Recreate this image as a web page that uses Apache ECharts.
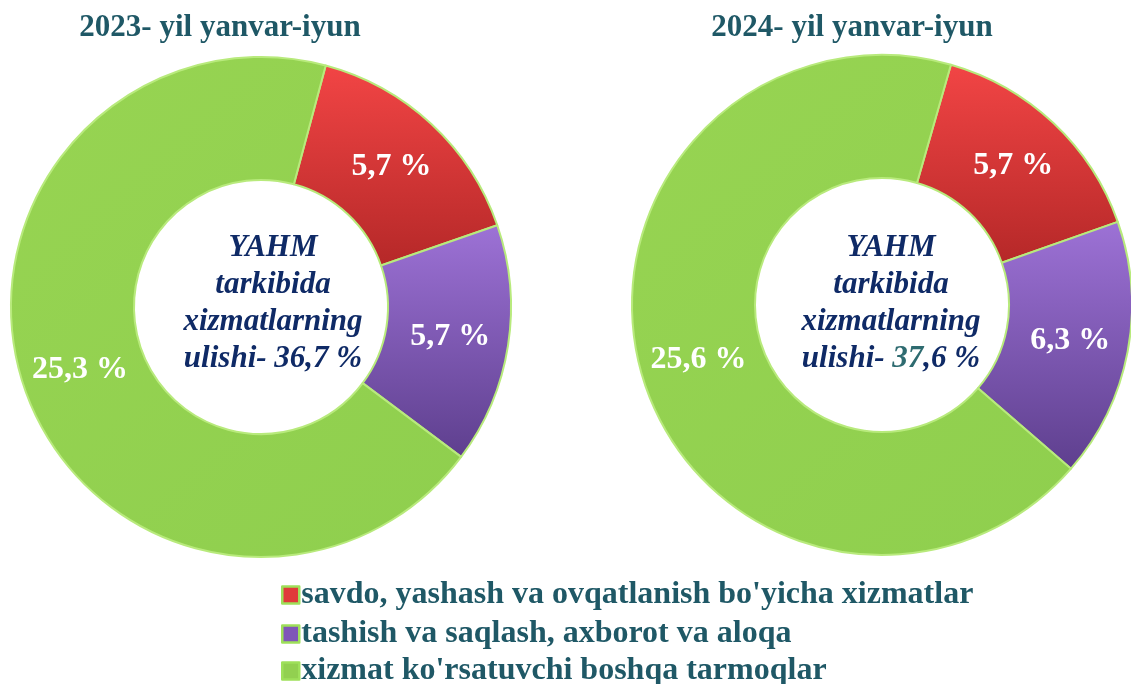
<!DOCTYPE html>
<html>
<head>
<meta charset="utf-8">
<script src="https://cdn.jsdelivr.net/npm/echarts@6/dist/echarts.min.js"></script>
<style>
  html, body { margin: 0; padding: 0; background: #fff; }
  #chart { width: 1131px; height: 684px; }
</style>
</head>
<body>
<div id="chart"></div>
<script>
// data
var categories = [
  "savdo, yashash va ovqatlanish bo'yicha xizmatlar",
  'tashish va saqlash, axborot va aloqa',
  "xizmat ko'rsatuvchi boshqa tarmoqlar"
]
var years = ['2023- yil yanvar-iyun', '2024- yil yanvar-iyun']
var values2023 = [5.7, 5.7, 25.3]
var values2024 = [5.7, 6.3, 25.6]
var totals = ['36,7', '37,6']

var teal = '#1f5866'
var navy = '#0f2a66'
var serif = '"Liberation Serif", "DejaVu Serif", serif'

var colors = [
  new echarts.graphic.LinearGradient(0, 0, 0, 1, [
    {offset: 0, color: '#f24545'}, {offset: 1, color: '#b52828'}
  ]),
  new echarts.graphic.LinearGradient(0, 0, 0, 1, [
    {offset: 0, color: '#9d72d6'}, {offset: 1, color: '#5e3f8e'}
  ]),
  new echarts.graphic.LinearGradient(0, 0, 1, 1, [
    {offset: 0, color: '#97d452'}, {offset: 1, color: '#8fcf4e'}
  ])
]
var legendColors = ['#e03a3a', '#7f56b8', '#92d050']

function toData (vals) {
  var out = []
  for (var i = 0; i < vals.length; i++) {
    out.push({
      name: categories[i],
      value: vals[i],
      itemStyle: {color: colors[i]}
    })
  }
  return out
}

function pieSeries (vals, center, startAngle) {
  return {
    type: 'pie',
    center: center,
    radius: [127, 250],
    startAngle: startAngle,
    clockwise: true,
    avoidLabelOverlap: false,
    silent: true,
    itemStyle: {borderColor: '#b8ea7c', borderWidth: 2},
    label: {
      show: true,
      position: 'inside',
      color: '#fff',
      fontFamily: serif,
      fontWeight: 'bold',
      fontSize: 32,
      formatter: function (p) {
        return String(p.value).replace('.', ',') + ' %'
      }
    },
    labelLine: {show: false},
    data: toData(vals)
  }
}

function centerTitle (x, y, total, tealNum) {
  var numText = tealNum
    ? '{n|' + total.slice(0, 2) + '}{b|' + total.slice(2) + ' %}'
    : '{b|' + total + ' %}'
  return {
    text: '{b|YAHM}\n{b|tarkibida}\n{b|xizmatlarning}\n{b|ulishi- }' + numText,
    left: x,
    top: y,
    textAlign: 'center',
    textStyle: {
      rich: {
        b: {fontFamily: serif, fontWeight: 'bold', fontStyle: 'italic', fontSize: 31, color: navy, lineHeight: 37},
        n: {fontFamily: serif, fontWeight: 'bold', fontStyle: 'italic', fontSize: 31, color: '#2e6b70', lineHeight: 37}
      }
    }
  }
}

function legendRow (i, top) {
  return {
    orient: 'vertical',
    left: 276,
    top: top,
    itemWidth: 17,
    itemHeight: 17,
    selectedMode: false,
    icon: 'rect',
    data: [{
      name: categories[i],
      itemStyle: {color: legendColors[i], borderColor: '#9ee05a', borderWidth: 2.5}
    }],
    textStyle: {fontFamily: serif, fontWeight: 'bold', fontSize: 32, color: teal, padding: [0, 0, 0, -3]}
  }
}

var chart = echarts.init(document.getElementById('chart'))
chart.setOption({
  animation: false,
  title: [
    {
      text: years[0], left: 215, top: 7, textAlign: 'center',
      textStyle: {fontFamily: serif, fontWeight: 'bold', fontSize: 31, color: teal}
    },
    {
      text: years[1], left: 847, top: 7, textAlign: 'center',
      textStyle: {fontFamily: serif, fontWeight: 'bold', fontSize: 31, color: teal}
    },
    centerTitle(268, 224, totals[0], false),
    centerTitle(886, 224, totals[1], true)
  ],
  legend: [legendRow(0, 574), legendRow(1, 613), legendRow(2, 650)],
  series: [
    pieSeries(values2023, [261, 307], 75),
    pieSeries(values2024, [882, 305], 74)
  ]
})
</script>
</body>
</html>
